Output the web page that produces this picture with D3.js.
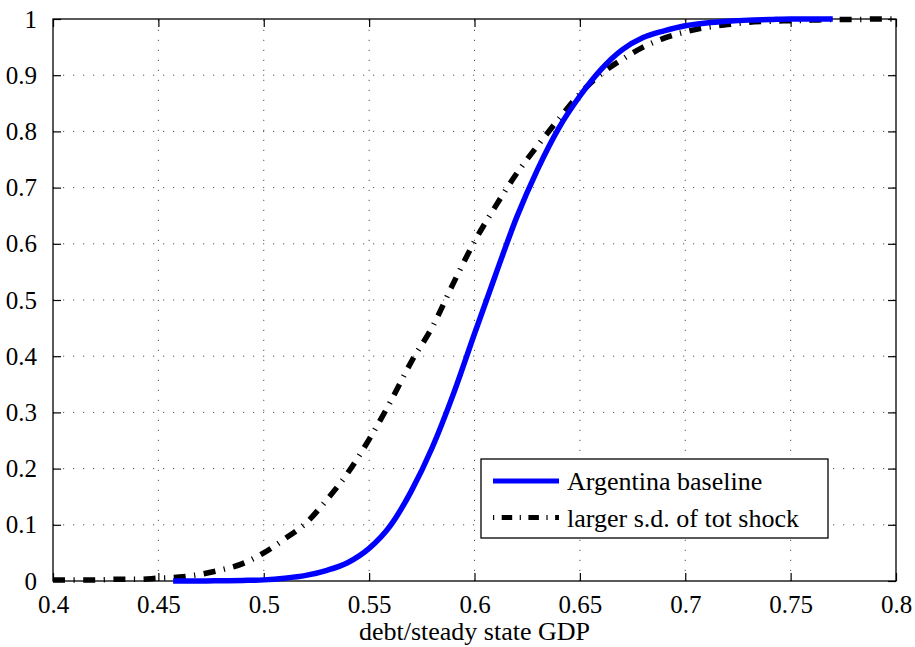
<!DOCTYPE html>
<html>
<head>
<meta charset="utf-8">
<script src="https://cdn.jsdelivr.net/npm/d3@7"></script>
<style>
  body { margin: 0; background: #fff; }
  svg text { font-family: "Liberation Serif", "Times New Roman", serif; fill: #000; }
</style>
</head>
<body>
<svg id="chart" width="915" height="647"></svg>
<script>
// debt / steady state GDP grid
var debtBase = [0.457, 0.47, 0.48, 0.49, 0.50, 0.51, 0.52, 0.53, 0.54, 0.55, 0.56, 0.57, 0.58, 0.59, 0.60,
	0.61, 0.62, 0.63, 0.64, 0.65, 0.66, 0.67, 0.68, 0.69, 0.70, 0.71, 0.72, 0.73, 0.74, 0.75, 0.76, 0.77];
var cdfBase = [0, 0, 0.0005, 0.001, 0.002, 0.005, 0.010, 0.019, 0.033, 0.058, 0.098, 0.160, 0.238, 0.333, 0.440,
	0.545, 0.647, 0.733, 0.806, 0.863, 0.910, 0.945, 0.967, 0.979, 0.988, 0.993, 0.996, 0.998, 0.999, 1, 1, 1];

var debtShock = [0.40, 0.41, 0.42, 0.43, 0.44, 0.45, 0.46, 0.47, 0.48, 0.49, 0.50, 0.51, 0.52, 0.53, 0.54,
	0.55, 0.56, 0.57, 0.58, 0.59, 0.60, 0.61, 0.62, 0.63, 0.64, 0.65, 0.66, 0.67, 0.68, 0.69, 0.70,
	0.71, 0.72, 0.73, 0.74, 0.75, 0.76, 0.77, 0.78, 0.79, 0.80];
var cdfShock = [0.002, 0.002, 0.002, 0.003, 0.003, 0.005, 0.007, 0.012, 0.020, 0.031, 0.050, 0.075, 0.103, 0.145, 0.193,
	0.252, 0.318, 0.390, 0.452, 0.530, 0.604, 0.667, 0.725, 0.775, 0.822, 0.867, 0.902, 0.928, 0.950, 0.966, 0.977,
	0.985, 0.990, 0.994, 0.996, 0.997, 0.998, 0.999, 0.999, 1, 1];

var xTicks = [0.4, 0.45, 0.5, 0.55, 0.6, 0.65, 0.7, 0.75, 0.8];
var yTicks = [0, 0.1, 0.2, 0.3, 0.4, 0.5, 0.6, 0.7, 0.8, 0.9, 1];
var seriesNames = ["Argentina baseline", "larger s.d. of tot shock"];

var plotLeft = 53, plotRight = 896, plotTop = 19, plotBottom = 581;
var fontSize = 25;

var svg = d3.select("#chart");

var x = d3.scaleLinear().domain([0.4, 0.8]).range([plotLeft, plotRight]);
var y = d3.scaleLinear().domain([0, 1]).range([plotBottom, plotTop]);

// grid
var grid = svg.append("g").attr("class", "grid")
	.attr("stroke", "#555").attr("stroke-width", 1).attr("stroke-dasharray", "1.2,8.8");
grid.selectAll(".gx").data(xTicks.slice(1, -1)).enter().append("line")
	.attr("x1", function (d) { return x(d); }).attr("x2", function (d) { return x(d); })
	.attr("y1", plotBottom).attr("y2", plotTop);
grid.selectAll(".gy").data(yTicks.slice(1, -1)).enter().append("line")
	.attr("y1", function (d) { return y(d); }).attr("y2", function (d) { return y(d); })
	.attr("x1", plotLeft).attr("x2", plotRight);

// axes with inward ticks on all four sides
function styleAxis(g) {
	g.select(".domain").remove();
	g.selectAll("line").attr("stroke", "#000").attr("stroke-width", 1.2);
	g.selectAll("text").attr("font-size", fontSize).attr("font-family", "Liberation Serif");
}
var fmt = function (d) { return String(+d.toFixed(2)); };

svg.append("g").attr("transform", "translate(0," + plotBottom + ")")
	.call(d3.axisBottom(x).tickValues(xTicks).tickFormat(fmt).tickSizeInner(-8).tickSizeOuter(0).tickPadding(14))
	.call(styleAxis);
svg.append("g").attr("transform", "translate(0," + plotTop + ")")
	.call(d3.axisTop(x).tickValues(xTicks).tickFormat("").tickSizeInner(-8).tickSizeOuter(0))
	.call(styleAxis);
svg.append("g").attr("transform", "translate(" + plotLeft + ",0)")
	.call(d3.axisLeft(y).tickValues(yTicks).tickFormat(fmt).tickSizeInner(-8).tickSizeOuter(0).tickPadding(16))
	.call(styleAxis);
svg.append("g").attr("transform", "translate(" + plotRight + ",0)")
	.call(d3.axisRight(y).tickValues(yTicks).tickFormat("").tickSizeInner(-8).tickSizeOuter(0))
	.call(styleAxis);

svg.append("rect")
	.attr("x", plotLeft).attr("y", plotTop).attr("width", plotRight - plotLeft).attr("height", plotBottom - plotTop)
	.attr("fill", "none").attr("stroke", "#000").attr("stroke-width", 1.3);

// curves
var line = d3.line()
	.x(function (d) { return x(d[0]); })
	.y(function (d) { return y(d[1]); })
	.curve(d3.curveMonotoneX);

svg.append("path")
	.datum(debtShock.map(function (d, i) { return [d, cdfShock[i]]; }))
	.attr("d", line)
	.attr("fill", "none").attr("stroke", "#000").attr("stroke-width", 5.5)
	.attr("stroke-dasharray", "12,8.5,1.2,8.5");

svg.append("path")
	.datum(debtBase.map(function (d, i) { return [d, cdfBase[i]]; }))
	.attr("d", line)
	.attr("fill", "none").attr("stroke", "#0000ff").attr("stroke-width", 5.5);

// x label
svg.append("text")
	.attr("x", (plotLeft + plotRight) / 2).attr("y", 640)
	.attr("text-anchor", "middle").attr("font-size", 26)
	.text("debt/steady state GDP");

// legend
var legend = svg.append("g").attr("class", "legend");
legend.append("rect")
	.attr("x", 481).attr("y", 459).attr("width", 347).attr("height", 79)
	.attr("fill", "#fff").attr("stroke", "#000").attr("stroke-width", 1.3);

var rows = legend.selectAll(".row").data(seriesNames).enter().append("g")
	.attr("transform", function (_d, i) { return "translate(0," + (481 + i * 36.5) + ")"; });
rows.append("line")
	.attr("x1", 493).attr("x2", 559).attr("y1", 0).attr("y2", 0)
	.attr("stroke", function (_d, i) { return i == 0 ? "#0000ff" : "#000"; })
	.attr("stroke-width", 5)
	.attr("stroke-dasharray", function (_d, i) { return i == 0 ? null : "10.5,7.5,1.2,7.5"; })
	.attr("stroke-dashoffset", 18);
rows.append("text")
	.attr("x", 567).attr("y", 9)
	.attr("font-size", 26)
	.text(function (d) { return d; });
</script>
</body>
</html>
